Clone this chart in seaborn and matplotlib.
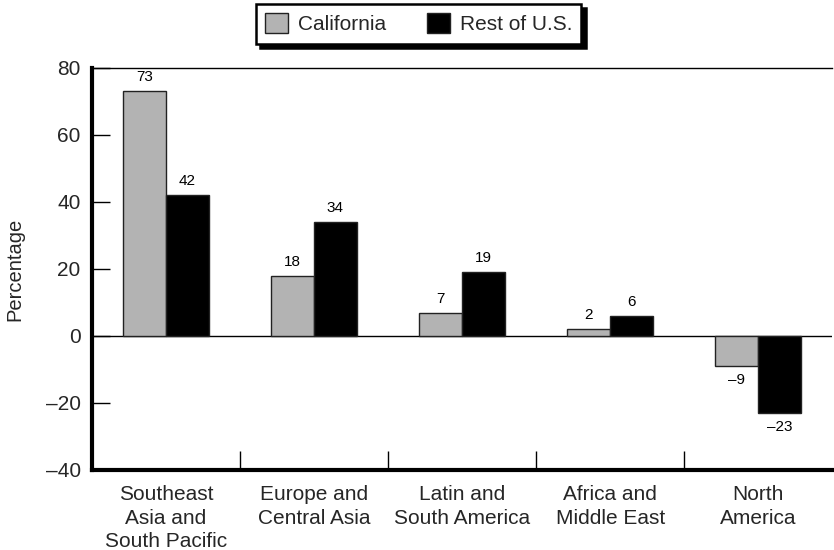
import matplotlib
matplotlib.use("Agg")
import matplotlib.pyplot as plt
import seaborn as sns
import pandas as pd
from matplotlib.patches import Patch

categories = ["Southeast\nAsia and\nSouth Pacific", "Europe and\nCentral Asia",
              "Latin and\nSouth America", "Africa and\nMiddle East", "North\nAmerica"]
series_names = ["California", "Rest of U.S."]
california = [73, 18, 7, 2, -9]
rest_of_us = [42, 34, 19, 6, -23]
y_ticks = [-40, -20, 0, 20, 40, 60, 80]
colors = ["#b3b3b3", "#000000"]

df = pd.DataFrame({
    "Region": categories * 2,
    "Series": [series_names[0]] * len(categories) + [series_names[1]] * len(categories),
    "Value": california + rest_of_us,
})

sns.set_theme(style="white")
plt.rcParams["font.family"] = ["Liberation Sans", "DejaVu Sans"]

fig = plt.figure(figsize=(8.34, 5.5), dpi=100)
ax = fig.add_axes([0.110, 0.1455, 0.888, 0.731])

sns.barplot(data=df, x="Region", y="Value", hue="Series", order=categories,
            hue_order=series_names, palette=colors, width=0.58, dodge=True,
            edgecolor="#222222", linewidth=1.0, saturation=1, errorbar=None,
            legend=False, ax=ax)

def fmt(v):
    return ("\u2013" + str(abs(int(v)))) if v < 0 else str(int(v))

for cont, vals in zip(ax.containers, [california, rest_of_us]):
    ax.bar_label(cont, labels=[fmt(v) for v in vals], padding=5, fontsize=11, color="black")

ax.set_xlim(-0.5, 4.5)
ax.set_ylim(-40, 80)
ax.set_yticks(y_ticks)
ax.set_yticklabels([fmt(v) for v in y_ticks], fontsize=15)
ax.axhline(0, color="black", lw=1.0, zorder=0.5)

ax.set_xlabel("")
ax.set_ylabel("Percentage", fontsize=14.5, labelpad=15)
ax.tick_params(axis="x", which="major", length=0, labelsize=15, pad=11)
for t in ax.get_xticklabels():
    t.set_linespacing(1.3)
ax.tick_params(axis="y", which="major", direction="in", length=13, width=1.0,
               color="black", labelsize=15, pad=8, left=True)
ax.set_xticks([0.5, 1.5, 2.5, 3.5], minor=True)
ax.tick_params(axis="x", which="minor", direction="in", length=14, width=1.0,
               color="black", bottom=True)

for s in ["left", "bottom"]:
    ax.spines[s].set_linewidth(3)
    ax.spines[s].set_color("black")
ax.spines["top"].set_linewidth(1)
ax.spines["top"].set_color("black")
ax.spines["right"].set_visible(False)

handles = [Patch(facecolor=c, edgecolor="#222222", linewidth=1.0) for c in colors]
leg = fig.legend(handles, series_names, loc="center", bbox_to_anchor=(0.502, 0.957),
                 ncol=2, frameon=True, fancybox=False,
                 shadow={"color": "black", "alpha": 1, "ox": 3, "oy": -3},
                 fontsize=15, handlelength=1.1, handleheight=1.1, columnspacing=2.0,
                 handletextpad=0.45, borderpad=0.45, borderaxespad=0)
leg.get_frame().set_edgecolor("black")
leg.get_frame().set_linewidth(1.8)

fig.savefig("out.png", dpi=100)
